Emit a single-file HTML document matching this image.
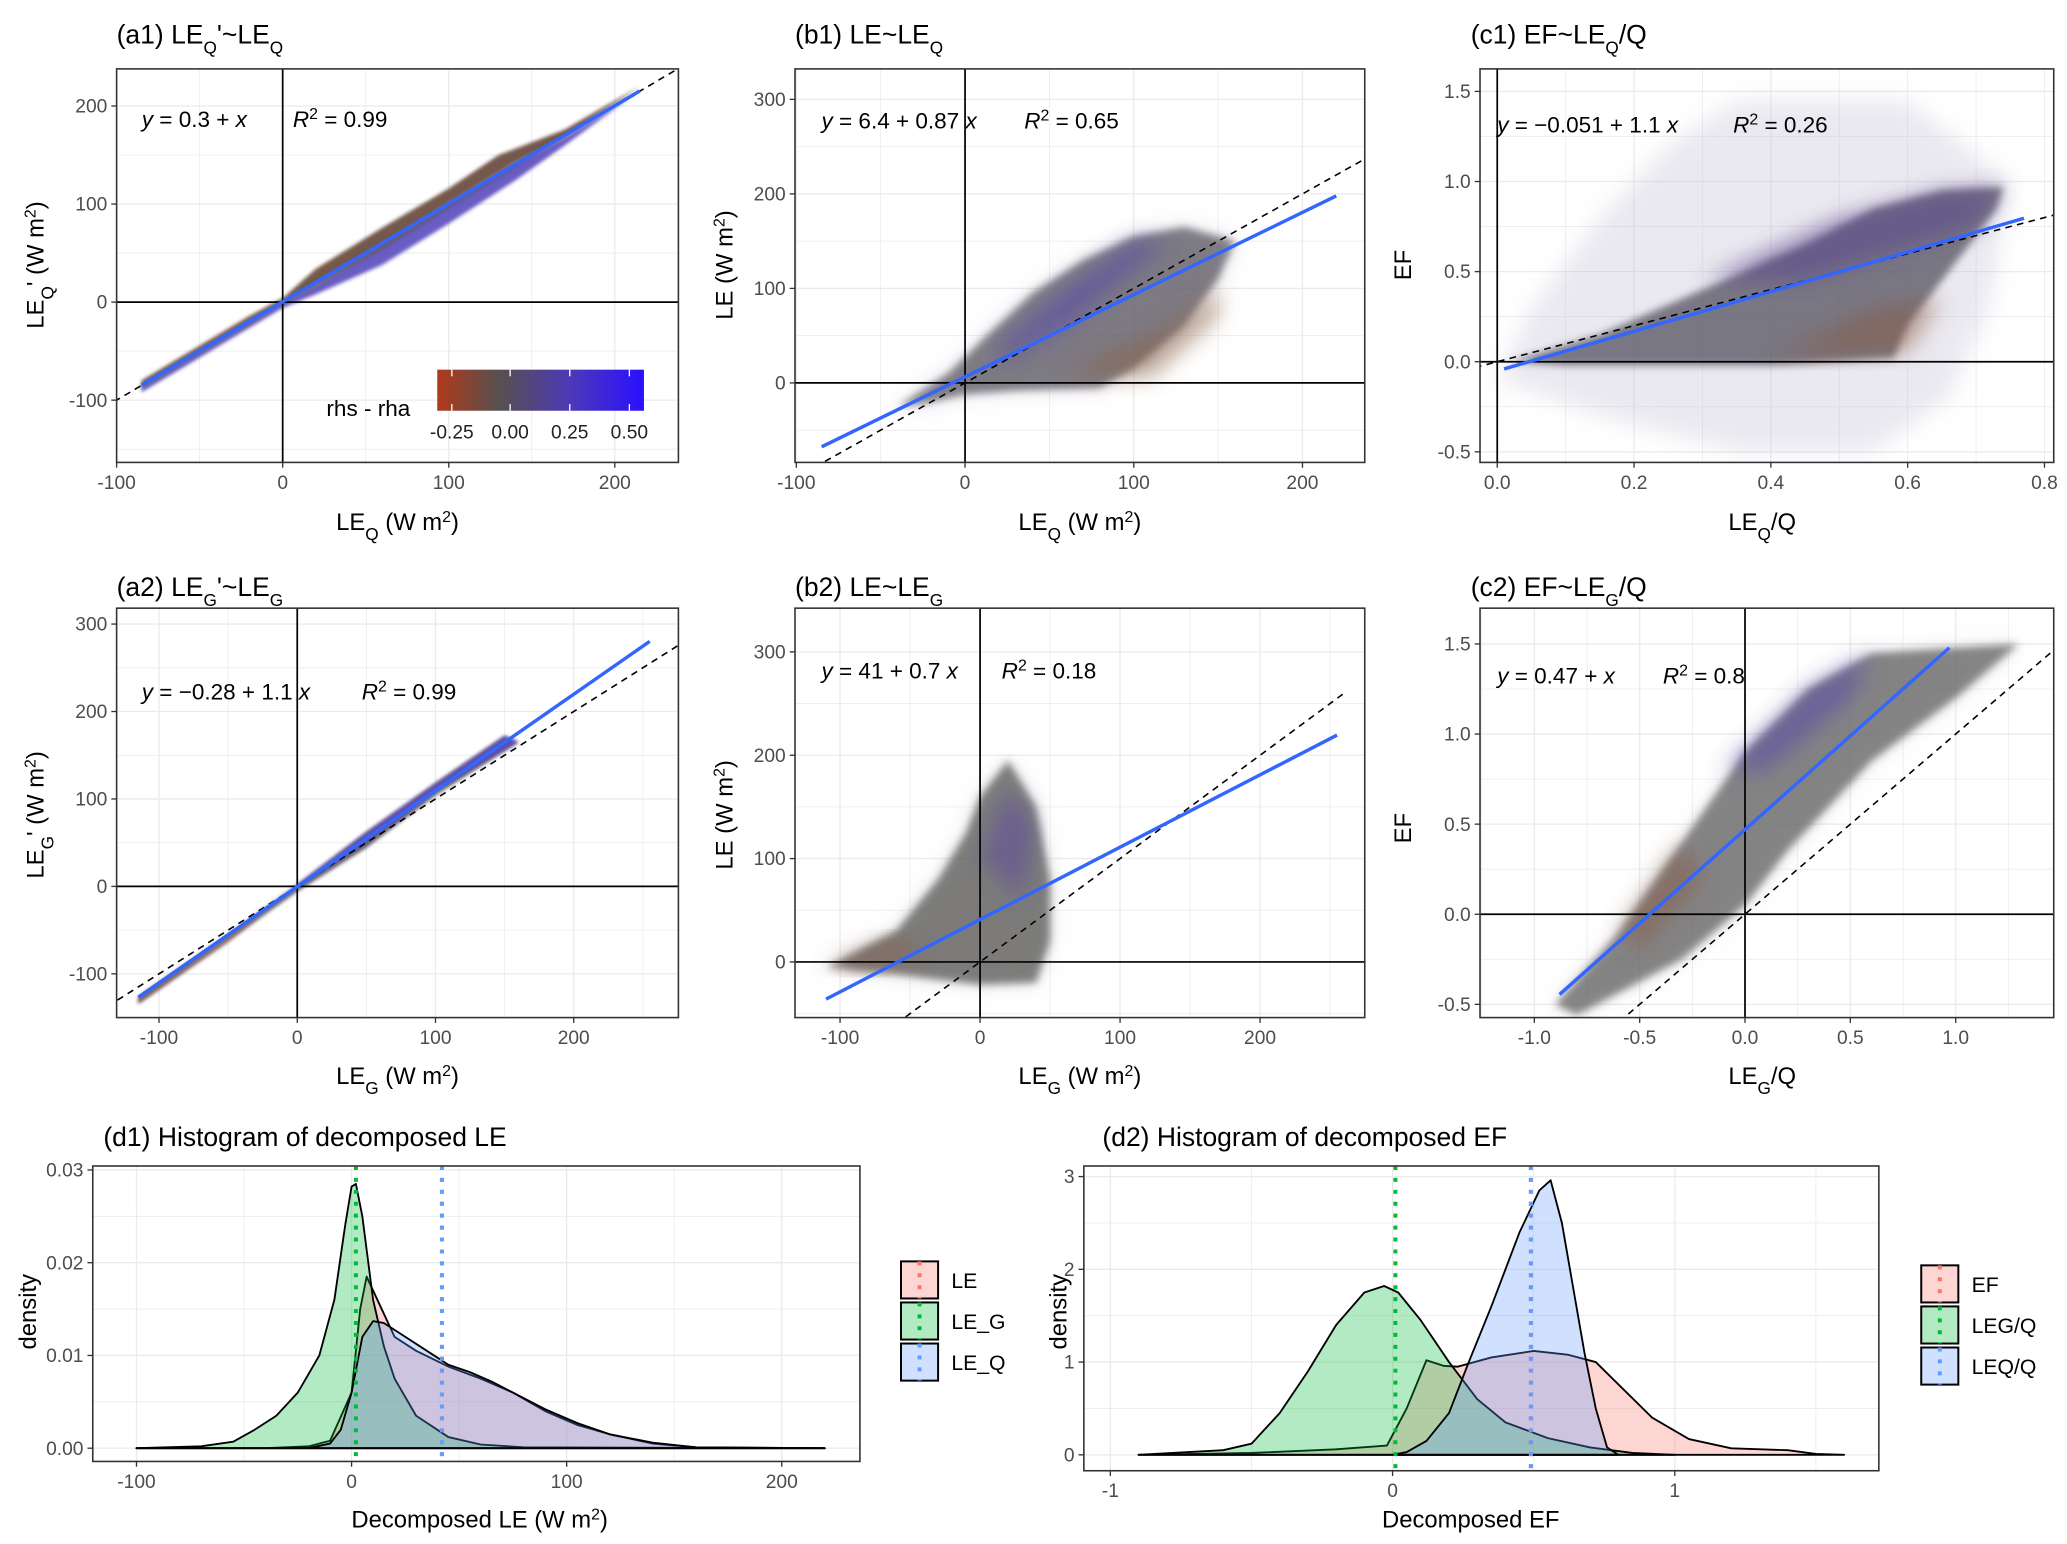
<!DOCTYPE html>
<html><head><meta charset="utf-8">
<style>
html,body{margin:0;padding:0;background:#fff;}
svg{display:block;font-family:"Liberation Sans",sans-serif;}
</style></head>
<body>
<svg id="fig" width="2067" height="1544" viewBox="0 0 1560 1165.3" xmlns="http://www.w3.org/2000/svg">
<defs>
<filter id="blur2" x="-20%" y="-20%" width="140%" height="140%"><feGaussianBlur stdDeviation="1.5"/></filter>
<filter id="blur3" x="-20%" y="-20%" width="140%" height="140%"><feGaussianBlur stdDeviation="3"/></filter>
<filter id="blur8" x="-20%" y="-20%" width="140%" height="140%"><feGaussianBlur stdDeviation="8"/></filter>
<linearGradient id="cbar" x1="0" x2="1" y1="0" y2="0">
<stop offset="0" stop-color="#b03a1a"/><stop offset="0.3" stop-color="#575050"/><stop offset="0.65" stop-color="#4c38b8"/><stop offset="1" stop-color="#2a10ff"/>
</linearGradient>
</defs>
</svg>
<script>
// ---------- data ----------
const regInt = [0.3, 6.4, -0.051, -0.28, 41, 0.47];
const regSlope = [1, 0.87, 1.1, 1.1, 0.7, 1.04];
const regRange = [[-85,215],[-85,220],[0.01,0.77],[-115,255],[-110,255],[-0.88,0.97]];
const cloudA1Up = [[-85,-80],[-20,-14],[0,4],[20,34],[60,76],[100,116],[130,150],[170,176],[215,220],[170,168],[140,142],[100,100],[60,58],[20,18],[0,0],[-85,-86]];
const cloudA1Lo = [[-85,-86],[0,0],[20,18],[60,58],[100,100],[140,142],[170,168],[215,216],[170,160],[140,124],[100,80],[60,38],[20,8],[0,-6],[-20,-26],[-85,-92]];
const cloudB1 = [[-40,-25],[-10,10],[10,45],[40,95],[70,130],[100,155],[130,165],[160,150],[150,110],[130,60],[100,15],[80,-5],[30,-8],[0,-12],[-25,-22]];
const cloudC1Faint = [[0,-0.1],[0.05,0.3],[0.15,0.8],[0.25,1.2],[0.35,1.45],[0.6,1.45],[0.75,1.0],[0.72,0.3],[0.66,-0.2],[0.55,-0.5],[0.35,-0.5],[0.15,-0.3]];
const cloudC1 = [[0.02,0],[0.15,0.15],[0.3,0.4],[0.45,0.65],[0.55,0.85],[0.65,0.95],[0.74,0.97],[0.73,0.85],[0.68,0.6],[0.6,0.2],[0.58,0.02],[0.4,-0.02],[0.1,-0.02]];
const cloudA2 = [[-115,-126],[-50,-55],[0,2],[50,62],[100,118],[150,172],[160,165],[100,104],[50,44],[0,-6],[-50,-62],[-115,-134]];
const cloudB2 = [[-110,-5],[-60,30],[-30,80],[-10,125],[0,160],[20,195],[40,150],[50,80],[50,20],[40,-20],[0,-22],[-60,-12]];
const cloudC2 = [[-0.9,-0.5],[-0.6,-0.1],[-0.3,0.4],[0,0.9],[0.3,1.25],[0.6,1.45],[1.3,1.5],[1.0,1.2],[0.6,0.85],[0.2,0.35],[0,0.05],[-0.3,-0.25],[-0.8,-0.56]];
const d1Cats = ['LE','LE_G','LE_Q'];
const d1X_LE = [-100,-40,-20,-10,0,4,7,12,20,30,45,60,75,90,105,120,140,160,220];
const d1Y_LE = [0,0,0.0002,0.0008,0.006,0.015,0.0185,0.016,0.012,0.0105,0.0088,0.0075,0.006,0.004,0.0025,0.0015,0.0005,0.0001,0];
const d1X_LG = [-100,-70,-55,-45,-35,-25,-15,-8,-3,0,2,5,10,15,20,30,45,60,80,220];
const d1Y_LG = [0,0.0002,0.0007,0.002,0.0035,0.006,0.01,0.016,0.024,0.0282,0.0285,0.025,0.016,0.011,0.0075,0.0035,0.0012,0.0004,0.0001,0];
const d1X_LQ = [-100,-20,-10,-5,0,5,10,15,25,35,45,55,65,75,90,105,120,140,160,220];
const d1Y_LQ = [0,0,0.0005,0.002,0.006,0.012,0.0137,0.0135,0.012,0.0105,0.009,0.0082,0.0072,0.006,0.0042,0.0027,0.0015,0.0006,0.0001,0];
const d1Means = [42, 2, 42];
const d2Cats = ['EF','LEG/Q','LEQ/Q'];
const d2X_EF = [-0.9,-0.5,-0.2,-0.02,0.05,0.12,0.18,0.23,0.35,0.5,0.62,0.72,0.82,0.92,1.05,1.2,1.4,1.5,1.6];
const d2Y_EF = [0,0.02,0.06,0.1,0.5,1.02,0.96,0.95,1.05,1.12,1.08,1.0,0.7,0.4,0.17,0.07,0.05,0.01,0];
const d2X_LG = [-0.9,-0.6,-0.5,-0.4,-0.3,-0.2,-0.1,-0.03,0.02,0.1,0.2,0.3,0.4,0.55,0.7,0.85,1.0];
const d2Y_LG = [0,0.05,0.12,0.45,0.9,1.4,1.75,1.82,1.75,1.45,1.0,0.6,0.35,0.18,0.08,0.02,0];
const d2X_LQ = [0,0.05,0.12,0.2,0.27,0.35,0.45,0.52,0.56,0.6,0.64,0.68,0.72,0.76,0.8];
const d2Y_LQ = [0,0.03,0.15,0.45,1.0,1.6,2.4,2.85,2.96,2.5,1.8,1.1,0.5,0.08,0];
const d2Means = [0.49, 0.01, 0.49];

// ---------- helpers ----------
const NS = 'http://www.w3.org/2000/svg';
const svg = document.getElementById('fig');
function mk(tag, attrs, parent) {
  const e = document.createElementNS(NS, tag);
  for (const k in attrs) e.setAttribute(k, attrs[k]);
  (parent || svg).appendChild(e);
  return e;
}
function txt(s, x, y, size, anchor, parent, color) {
  const t = mk('text', {x: x, y: y, 'font-size': size, 'text-anchor': anchor || 'start', fill: color || '#000'}, parent);
  t.innerHTML = s;
  return t;
}
function lin(d0, d1, p0, p1) { return v => p0 + (v - d0) * (p1 - p0) / (d1 - d0); }
let clipN = 0;
function panel(name, box, xd, xp, yd, yp, xticks, yticks, xtl, ytl) {
  const g = mk('g', {});
  
  
  const sx = lin(xd[0], xd[1], xp[0], xp[1]);
  const sy = lin(yd[0], yd[1], yp[0], yp[1]);
  const [L, T, R, B] = box;
  mk('rect', {x: L, y: T, width: R - L, height: B - T, fill: '#fff'}, g);
  const step = xticks[1] - xticks[0], ystep = yticks[1] - yticks[0];
  for (let v = xticks[0] - step; v <= xticks[xticks.length - 1] + step; v += step / 2) {
    const x = sx(v); if (x > L && x < R) mk('line', {x1: x, x2: x, y1: T, y2: B, stroke: '#ebebeb', 'stroke-width': Math.abs((v - xticks[0]) / step % 1) < 1e-6 ? 1 : 0.6}, g);
  }
  for (let v = yticks[0] - ystep; v <= yticks[yticks.length - 1] + ystep; v += ystep / 2) {
    const y = sy(v); if (y > T && y < B) mk('line', {x1: L, x2: R, y1: y, y2: y, stroke: '#ebebeb', 'stroke-width': Math.abs((v - yticks[0]) / ystep % 1) < 1e-6 ? 1 : 0.6}, g);
  }
  const id = 'clip' + (clipN++);
  const cp = mk('clipPath', {id: id}, g);
  mk('rect', {x: L, y: T, width: R - L, height: B - T}, cp);
  const inner = mk('g', {'clip-path': 'url(#' + id + ')'}, g);
  xticks.forEach((v, i) => {
    const x = sx(v);
    mk('line', {x1: x, x2: x, y1: B, y2: B + 4, stroke: '#333', 'stroke-width': 1}, g);
    const t = txt(xtl[i], x, B + 20, 14.5, 'middle', g, '#4d4d4d');
    
    
  });
  yticks.forEach((v, i) => {
    const y = sy(v);
    mk('line', {x1: L - 4, x2: L, y1: y, y2: y, stroke: '#333', 'stroke-width': 1}, g);
    const t = txt(ytl[i], L - 7, y + 5, 14.5, 'end', g, '#4d4d4d');
    
    
  });
  return {g, inner, sx, sy, box};
}
function border(p) {
  const [L, T, R, B] = p.box;
  mk('rect', {x: L, y: T, width: R - L, height: B - T, fill: 'none', stroke: '#333', 'stroke-width': 1.2}, p.g);
}
function poly(p, pts, fill, op, filt) {
  const e = mk('polygon', {points: pts.map(q => p.sx(q[0]) + ',' + p.sy(q[1])).join(' '), fill: fill, 'fill-opacity': op}, p.inner);
  if (filt) e.setAttribute('filter', 'url(#' + filt + ')');
  return e;
}
function axesZero(p) {
  const [L, T, R, B] = p.box;
  mk('line', {x1: p.sx(0), x2: p.sx(0), y1: T, y2: B, stroke: '#000', 'stroke-width': 1.3}, p.inner);
  mk('line', {x1: L, x2: R, y1: p.sy(0), y2: p.sy(0), stroke: '#000', 'stroke-width': 1.3}, p.inner);
}
function oneToOne(p, a, b) {
  const l = mk('line', {x1: p.sx(a), y1: p.sy(a), x2: p.sx(b), y2: p.sy(b), stroke: '#000', 'stroke-width': 1.2, 'stroke-dasharray': '5,4'}, p.inner);
  
  
}
function reg(p, i) {
  const [a, b] = regRange[i];
  const l = mk('line', {x1: p.sx(a), y1: p.sy(regInt[i] + regSlope[i] * a), x2: p.sx(b), y2: p.sy(regInt[i] + regSlope[i] * b), stroke: '#3366ff', 'stroke-width': 2.6}, p.inner);
  
  
}
const sub = s => '<tspan baseline-shift="sub" font-size="13">' + s + '</tspan>';
const sup = s => '<tspan baseline-shift="super" font-size="12">' + s + '</tspan>';
function ann(p, a, r, x, xr, y) {
  const t = txt('<tspan font-style="italic">y</tspan> = ' + a + ' <tspan font-style="italic">x</tspan>', x, y, 17, 'start', p.g);
  
  
  const t2 = txt('<tspan font-style="italic">R</tspan>' + sup('2') + '<tspan> = ' + r + '</tspan>', xr, y, 17, 'start', p.g);
  
  
}
function title(html, x, y, name) {
  const t = txt(html, x, y, 20, 'start');
  
  
}
function xlab(html, x, y) {
  const t = txt(html, x, y, 18, 'middle');
  
  
}
function ylab(html, x, y) {
  const t = txt(html, 0, 0, 18, 'middle');
  t.setAttribute('transform', 'translate(' + x + ',' + y + ') rotate(-90)');
  
  
}

// ---------- a1 ----------
let p = panel('panel-a1', [88, 52, 512, 349], [-100, 200], [88, 464], [0, 100], [228, 154], [-100, 0, 100, 200], [-100, 0, 100, 200], ['-100', '0', '100', '200'], ['-100', '0', '100', '200']);
poly(p, cloudA1Up, '#6e5040', 0.95, 'blur2');
poly(p, cloudA1Lo, '#5040b8', 0.85, 'blur2');
poly(p, [[-85,-84],[0,1],[60,60],[140,142],[215,218],[140,138],[60,54],[0,-2],[-85,-88]], '#555055', 0.8, 'blur2');
axesZero(p); oneToOne(p, -120, 260); reg(p, 0); border(p);
ann(p, '0.3 +', '0.99', 107, 221, 96);
let cb = mk('rect', {x: 330, y: 279, width: 156, height: 31, fill: 'url(#cbar)'}, p.g);
 
[['-0.25', 341], ['0.00', 385], ['0.25', 430], ['0.50', 475]].forEach(q => {
  mk('line', {x1: q[1], x2: q[1], y1: 279, y2: 284, stroke: '#fff'}, p.g);
  mk('line', {x1: q[1], x2: q[1], y1: 305, y2: 310, stroke: '#fff'}, p.g);
  txt(q[0], q[1], 331, 14.5, 'middle', p.g, '#222');
});
txt('rhs - rha', 278, 314, 17, 'middle', p.g);
title('(a1) LE' + sub('Q') + '\'~LE' + sub('Q'), 88, 33, 'title-a1');
xlab('LE' + sub('Q') + ' (W m' + sup('2') + ')', 300, 400);
ylab('LE' + sub('Q') + '\' (W m' + sup('2') + ')', 33, 200);

// ---------- b1 ----------
p = panel('panel-b1', [600, 52, 1030, 349], [-100, 200], [601, 983], [0, 300], [289, 75], [-100, 0, 100, 200], [0, 100, 200, 300], ['-100', '0', '100', '200'], ['0', '100', '200', '300']);
poly(p, cloudB1, '#a8a0b8', 0.35, 'blur8');
poly(p, cloudB1, '#5c5a62', 0.75, 'blur3');
poly(p, [[20,40],[60,100],[100,150],[120,150],[60,60],[20,20]], '#5848a8', 0.6, 'blur8');
poly(p, [[60,10],[120,60],[150,100],[150,70],[110,5]], '#8a6048', 0.55, 'blur8');
axesZero(p); oneToOne(p, -120, 260); reg(p, 1); border(p);
ann(p, '6.4 + 0.87', '0.65', 620, 773, 97);
title('(b1) LE~LE' + sub('Q'), 600, 33, 'title-b1');
xlab('LE' + sub('Q') + ' (W m' + sup('2') + ')', 815, 400);
ylab('LE (W m' + sup('2') + ')', 553, 200);

// ---------- c1 ----------
p = panel('panel-c1', [1117, 52, 1550, 349], [0, 0.8], [1130, 1543], [0, 1.5], [273, 69], [0, 0.2, 0.4, 0.6, 0.8], [-0.5, 0, 0.5, 1.0, 1.5], ['0.0', '0.2', '0.4', '0.6', '0.8'], ['-0.5', '0.0', '0.5', '1.0', '1.5']);
poly(p, cloudC1Faint, '#bcb6cc', 0.3, 'blur8');
poly(p, cloudC1, '#5c5a68', 0.8, 'blur3');
poly(p, [[0.3,0.45],[0.5,0.8],[0.65,0.95],[0.74,0.97],[0.7,0.75],[0.45,0.45]], '#5a4890', 0.6, 'blur8');
poly(p, [[0.4,0.02],[0.55,0.3],[0.65,0.35],[0.6,0.05]], '#8a5a40', 0.5, 'blur8');
axesZero(p); oneToOne(p, -0.1, 0.9); reg(p, 2); border(p);
ann(p, '−0.051 + 1.1', '0.26', 1130, 1308, 100);
title('(c1) EF~LE' + sub('Q') + '/Q', 1110, 33, 'title-c1');
xlab('LE' + sub('Q') + '/Q', 1330, 400);
ylab('EF', 1065, 200);

// ---------- a2 ----------
p = panel('panel-a2', [88, 459, 512, 768], [-100, 200], [120, 433], [0, 300], [669, 471], [-100, 0, 100, 200], [-100, 0, 100, 200, 300], ['-100', '0', '100', '200'], ['-100', '0', '100', '200', '300']);
poly(p, cloudA2, '#555060', 0.9, 'blur2');
poly(p, [[0,2],[50,62],[100,118],[150,172],[160,165],[100,110],[50,50],[0,0]], '#5a48c0', 0.75, 'blur2');
poly(p, [[-115,-130],[-50,-60],[-20,-25],[-50,-64],[-115,-134]], '#8a5040', 0.6, 'blur2');
axesZero(p); oneToOne(p, -130, 300); reg(p, 3); border(p);
ann(p, '−0.28 + 1.1', '0.99', 107, 273, 528);
title('(a2) LE' + sub('G') + '\'~LE' + sub('G'), 88, 450, 'title-a2');
xlab('LE' + sub('G') + ' (W m' + sup('2') + ')', 300, 818);
ylab('LE' + sub('G') + '\' (W m' + sup('2') + ')', 33, 615);

// ---------- b2 ----------
p = panel('panel-b2', [600, 459, 1030, 768], [-100, 200], [634, 951], [0, 300], [726, 492], [-100, 0, 100, 200], [0, 100, 200, 300], ['-100', '0', '100', '200'], ['0', '100', '200', '300']);
poly(p, cloudB2, '#b0a8b0', 0.35, 'blur8');
poly(p, cloudB2, '#5a5a55', 0.75, 'blur3');
poly(p, [[-110,-5],[-60,25],[-40,10],[-80,-8]], '#8a5a40', 0.5, 'blur8');
poly(p, [[0,100],[20,170],[40,130],[30,60]], '#5a48a0', 0.5, 'blur8');
axesZero(p); oneToOne(p, -60, 260); reg(p, 4); border(p);
ann(p, '41 + 0.7', '0.18', 620, 756, 512);
title('(b2) LE~LE' + sub('G'), 600, 450, 'title-b2');
xlab('LE' + sub('G') + ' (W m' + sup('2') + ')', 815, 818);
ylab('LE (W m' + sup('2') + ')', 553, 615);

// ---------- c2 ----------
p = panel('panel-c2', [1117, 459, 1550, 768], [-1, 1], [1158, 1476], [0, 1.5], [690, 486], [-1, -0.5, 0, 0.5, 1], [-0.5, 0, 0.5, 1.0, 1.5], ['-1.0', '-0.5', '0.0', '0.5', '1.0'], ['-0.5', '0.0', '0.5', '1.0', '1.5']);
poly(p, cloudC2, '#b8b4c4', 0.35, 'blur8');
poly(p, cloudC2, '#5a5a5a', 0.7, 'blur3');
poly(p, [[-0.1,0.8],[0.3,1.25],[0.6,1.45],[0.5,1.2],[0.1,0.8]], '#5a48a8', 0.6, 'blur8');
poly(p, [[-0.6,-0.1],[-0.3,0.4],[-0.2,0.2],[-0.5,-0.2]], '#8a5a40', 0.5, 'blur8');
axesZero(p); oneToOne(p, -1.5, 2); reg(p, 5); border(p);
ann(p, '0.47 +', '0.8', 1130, 1255, 516);
title('(c2) EF~LE' + sub('G') + '/Q', 1110, 450, 'title-c2');
xlab('LE' + sub('G') + '/Q', 1330, 818);
ylab('EF', 1065, 625);

// ---------- densities ----------
const fills = ['#F8766D', '#00BA38', '#619CFF'];
function dens(p, xs, ys, col, name) {
  const pts = xs.map((x, i) => p.sx(x) + ',' + p.sy(ys[i]));
  const e = mk('polygon', {points: pts.join(' '), fill: col, 'fill-opacity': 0.3, stroke: '#000', 'stroke-width': 1.4, 'stroke-linejoin': 'round'}, p.inner);
  
  
}
function meanLine(p, v, col) {
  const [L, T, R, B] = p.box;
  const l = mk('line', {x1: p.sx(v), x2: p.sx(v), y1: T, y2: B, stroke: col, 'stroke-width': 3, 'stroke-dasharray': '3,6'}, p.inner);
  
  
}
function legend(cats, x, y) {
  cats.forEach((c, i) => {
    const g = mk('g', {});
    
    
    const yy = y + i * 31;
    mk('rect', {x: x, y: yy, width: 28, height: 28, fill: fills[i], 'fill-opacity': 0.3, stroke: '#000', 'stroke-width': 1.5}, g);
    mk('line', {x1: x + 14, x2: x + 14, y1: yy, y2: yy + 28, stroke: fills[i], 'stroke-width': 3, 'stroke-dasharray': '3,6'}, g);
    txt(c, x + 38, yy + 20, 16, 'start', g);
  });
}

p = panel('panel-d1', [70, 880, 649, 1103], [-100, 200], [103, 590], [0, 0.03], [1093, 883], [-100, 0, 100, 200], [0, 0.01, 0.02, 0.03], ['-100', '0', '100', '200'], ['0.00', '0.01', '0.02', '0.03']);
dens(p, d1X_LE, d1Y_LE, fills[0], 'density-LE');
dens(p, d1X_LG, d1Y_LG, fills[1], 'density-LE_G');
dens(p, d1X_LQ, d1Y_LQ, fills[2], 'density-LE_Q');
meanLine(p, d1Means[0], fills[0]); meanLine(p, d1Means[2], fills[2]); meanLine(p, d1Means[1], fills[1]);
border(p);
legend(d1Cats, 680, 952);
title('(d1) Histogram of decomposed LE', 78, 865, 'title-d1');
xlab('Decomposed LE (W m' + sup('2') + ')', 362, 1153);
ylab('density', 27, 990);

p = panel('panel-d2', [818, 880, 1418, 1110], [-1, 1], [838, 1264], [0, 3], [1098, 888], [-1, 0, 1], [0, 1, 2, 3], ['-1', '0', '1'], ['0', '1', '2', '3']);
dens(p, d2X_EF, d2Y_EF, fills[0], 'density-EF');
dens(p, d2X_LG, d2Y_LG, fills[1], 'density-LEG-Q');
dens(p, d2X_LQ, d2Y_LQ, fills[2], 'density-LEQ-Q');
meanLine(p, d2Means[0], fills[0]); meanLine(p, d2Means[2], fills[2]); meanLine(p, d2Means[1], fills[1]);
border(p);
legend(d2Cats, 1450, 955);
title('(d2) Histogram of decomposed EF', 832, 865, 'title-d2');
xlab('Decomposed EF', 1110, 1153);
ylab('density', 805, 990);
</script>
</body></html>
